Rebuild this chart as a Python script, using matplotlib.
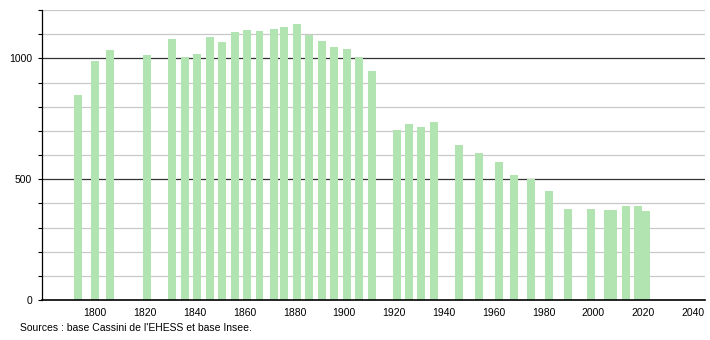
import matplotlib.pyplot as plt

# census years and population
years = [1793, 1800, 1806, 1821, 1831, 1836, 1841, 1846, 1851, 1856,
         1861, 1866, 1872, 1876, 1881, 1886, 1891, 1896, 1901, 1906,
         1911, 1921, 1926, 1931, 1936, 1946, 1954, 1962, 1968, 1975,
         1982, 1990, 1999, 2006, 2008, 2013, 2018, 2021]
population = [850, 988, 1033, 1015, 1079, 1004, 1017, 1090, 1066, 1107,
              1119, 1113, 1123, 1131, 1144, 1097, 1073, 1048, 1040, 1007,
              946, 705, 730, 716, 737, 643, 610, 571, 517, 501,
              453, 378, 378, 373, 373, 390, 387, 369]

xticks = list(range(1800, 2041, 20))
yticks = [0, 500, 1000]
source = "Sources : base Cassini de l'EHESS et base Insee."

plt.rcParams['font.family'] = ['Liberation Sans', 'DejaVu Sans']

fig = plt.figure(figsize=(7.1, 3.4), dpi=100)
ax = fig.add_axes([42 / 710, 40 / 340, 663 / 710, 290 / 340])

# grid: light every 100, dark every 500
for v in range(100, 1201, 100):
    if v % 500 == 0:
        ax.axhline(v, color='#333333', lw=0.9, zorder=0)
    else:
        ax.axhline(v, color='#c8c8c8', lw=0.9, zorder=0)

ax.bar(years, population, width=3.2, color='#b2e4b2', zorder=2)

ax.set_xlim(1778.7, 2044.8)
ax.set_ylim(0, 1200)
ax.set_xticks(xticks)
ax.set_yticks(yticks)
ax.set_yticks(range(0, 1201, 100), minor=True)
ax.tick_params(axis='x', length=0, labelsize=7.5, pad=6)
ax.tick_params(axis='y', which='both', length=3, width=0.8, labelsize=7.5, pad=4)

for side in ['top', 'right']:
    ax.spines[side].set_visible(False)
ax.spines['left'].set_linewidth(0.9)
ax.spines['bottom'].set_linewidth(1.2)

fig.text(20 / 710, 1 - 328 / 340, source, fontsize=7.5, va='center', ha='left')

fig.savefig('out.png', dpi=100)
